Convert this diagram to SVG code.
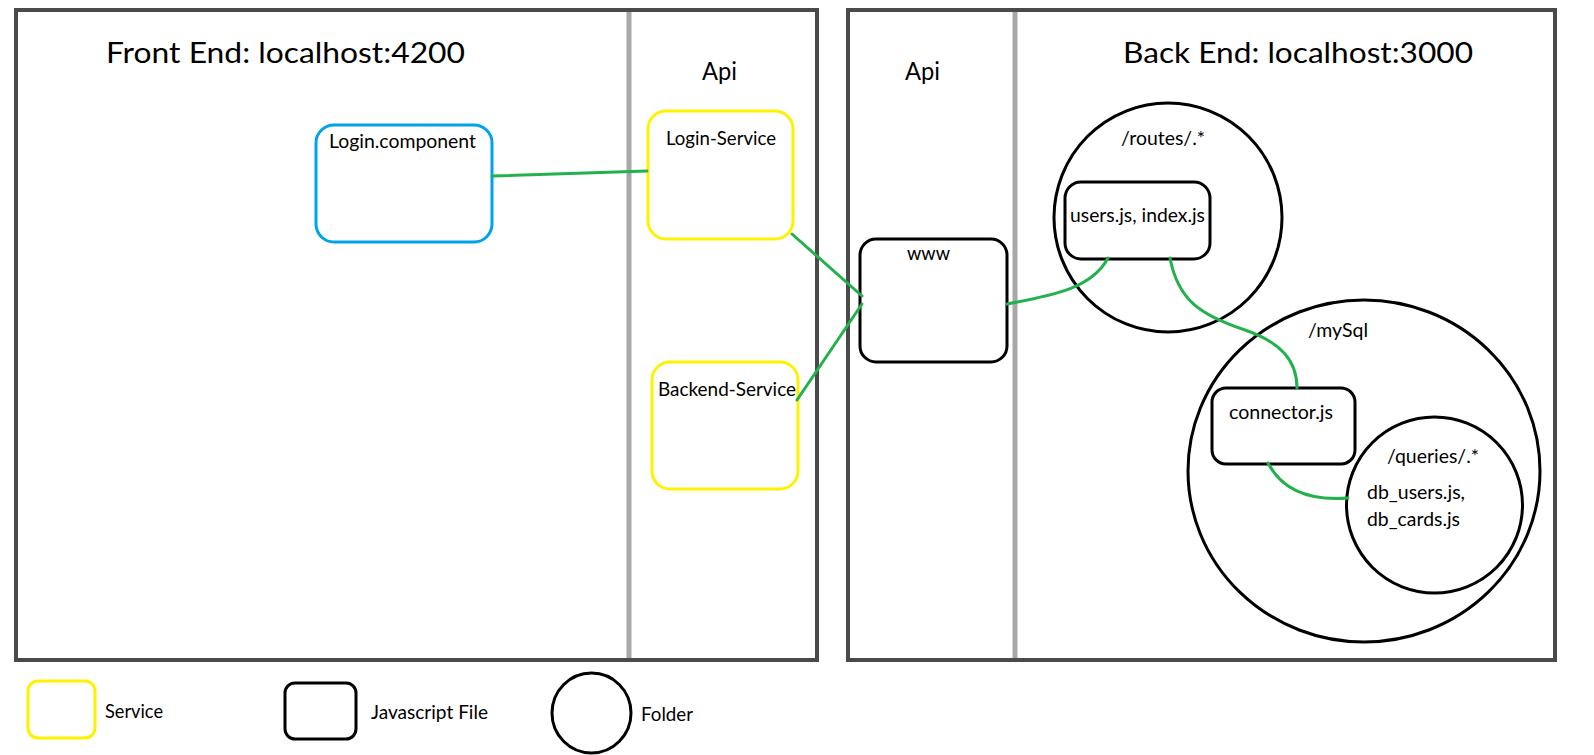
<svg xmlns="http://www.w3.org/2000/svg" width="1594" height="755" viewBox="0 0 1594 755">
<style>
  text { font-family: Lato, "Liberation Sans", sans-serif; fill: #000; }
  .t20 { font-size: 19px; }
  .t26 { font-size: 24.5px; }
  .t30 { font-size: 29px; }
  .panel { fill: #fff; stroke: #4a4a4a; stroke-width: 4; }
  .divider { stroke: #a8a8a8; stroke-width: 5; }
  .svc { fill: #fff; stroke: #FFF200; stroke-width: 3; }
  .comp { fill: #fff; stroke: #00A2E8; stroke-width: 3; }
  .js { fill: #fff; stroke: #000; stroke-width: 3; }
  .folder { fill: none; stroke: #000; stroke-width: 3; }
  .link { fill: none; stroke: #22B14C; stroke-width: 3; stroke-linecap: round; }
</style>
<rect width="1594" height="755" fill="#fff"/>

<g id="frontend-panel">
  <rect class="panel" x="16" y="10" width="801" height="650"/>
  <line class="divider" x1="629" y1="12" x2="629" y2="658"/>
  <text class="t30" x="106" y="63" textLength="359" lengthAdjust="spacingAndGlyphs">Front End: localhost:4200</text>
  <text class="t26" x="702" y="80" textLength="35" lengthAdjust="spacingAndGlyphs">Api</text>
</g>

<g id="backend-panel">
  <rect class="panel" x="848" y="10" width="707" height="650"/>
  <line class="divider" x1="1015" y1="12" x2="1015" y2="658"/>
  <text class="t26" x="905" y="80" textLength="35" lengthAdjust="spacingAndGlyphs">Api</text>
  <text class="t30" x="1123" y="63" textLength="350" lengthAdjust="spacingAndGlyphs">Back End: localhost:3000</text>
</g>

<g id="folder-routes">
  <ellipse class="folder" cx="1168" cy="217.5" rx="114" ry="114.5"/>
  <text class="t20" x="1121" y="145" textLength="84" lengthAdjust="spacingAndGlyphs">/routes/.*</text>
</g>

<g id="folder-mysql">
  <ellipse class="folder" cx="1364" cy="471" rx="176" ry="171"/>
  <text class="t20" x="1308" y="337" textLength="60" lengthAdjust="spacingAndGlyphs">/mySql</text>
</g>

<g id="folder-queries">
  <ellipse class="folder" cx="1434.5" cy="505" rx="88" ry="88"/>
  <text class="t20" x="1387" y="463" textLength="92" lengthAdjust="spacingAndGlyphs">/queries/.*</text>
  <text class="t20" x="1367" y="499" textLength="98" lengthAdjust="spacingAndGlyphs">db_users.js,</text>
  <text class="t20" x="1367" y="526" textLength="93" lengthAdjust="spacingAndGlyphs">db_cards.js</text>
</g>

<g id="login-component">
  <rect class="comp" x="316" y="125" width="176" height="117" rx="18"/>
  <text class="t20" x="329" y="148" textLength="147" lengthAdjust="spacingAndGlyphs">Login.component</text>
</g>

<g id="login-service">
  <rect class="svc" x="648" y="111" width="145" height="128" rx="18"/>
  <text class="t20" x="666" y="145" textLength="110" lengthAdjust="spacingAndGlyphs">Login-Service</text>
</g>

<g id="backend-service">
  <rect class="svc" x="652" y="362" width="146" height="127" rx="18"/>
  <text class="t20" x="658" y="396" textLength="138" lengthAdjust="spacingAndGlyphs">Backend-Service</text>
</g>

<g id="www">
  <rect class="js" x="860" y="239" width="147" height="123" rx="16"/>
  <text class="t20" x="907" y="260" textLength="43" lengthAdjust="spacingAndGlyphs">www</text>
</g>

<g id="users-index">
  <rect class="js" x="1065" y="182" width="145" height="77" rx="16"/>
  <text class="t20" x="1070" y="222" textLength="135" lengthAdjust="spacingAndGlyphs">users.js, index.js</text>
</g>

<g id="connector-js">
  <rect class="js" x="1212" y="388" width="143" height="76" rx="14"/>
  <text class="t20" x="1229" y="419" textLength="104" lengthAdjust="spacingAndGlyphs">connector.js</text>
</g>

<g id="connectors">
  <path class="link" d="M492,176 L647,171"/>
  <path class="link" d="M792,234 L862,296"/>
  <path class="link" d="M797,400 L862,304"/>
  <path class="link" d="M1007,304 C1055,295 1092,288 1108,258"/>
  <path class="link" d="M1170,258 C1178,300 1200,315 1245,330 C1280,342 1297,360 1297,388"/>
  <path class="link" d="M1268,463 C1282,490 1310,501 1348,498"/>
</g>

<g id="legend">
  <g id="legend-service">
    <rect class="svc" x="28" y="681" width="67" height="57" rx="10"/>
    <text class="t20" x="105" y="718" textLength="58" lengthAdjust="spacingAndGlyphs">Service</text>
  </g>
  <g id="legend-js">
    <rect class="js" x="285" y="683" width="71" height="56" rx="10"/>
    <text class="t20" x="371" y="719" textLength="117" lengthAdjust="spacingAndGlyphs">Javascript File</text>
  </g>
  <g id="legend-folder">
    <ellipse class="folder" cx="591.5" cy="713" rx="39.5" ry="40"/>
    <text class="t20" x="641" y="721" textLength="52" lengthAdjust="spacingAndGlyphs">Folder</text>
  </g>
</g>
</svg>
